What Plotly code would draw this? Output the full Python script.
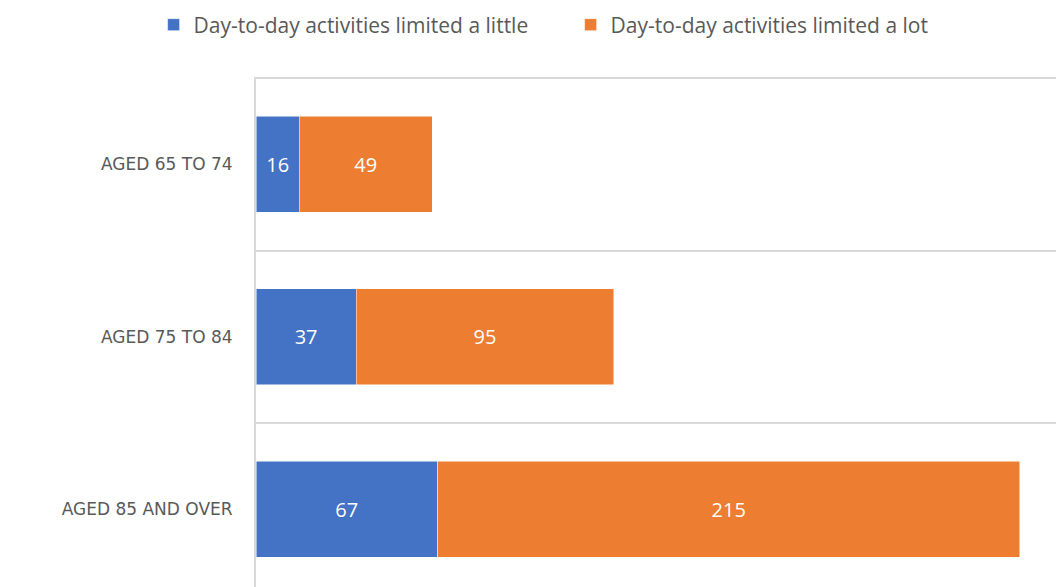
import plotly.graph_objects as go

categories = ["AGED 65 TO 74", "AGED 75 TO 84", "AGED 85 AND OVER"]
limited_little = [16, 37, 67]
limited_lot = [49, 95, 215]
series_names = ["Day-to-day activities limited a little", "Day-to-day activities limited a lot"]
colors = ["#4472C4", "#ED7D31"]

fig = go.Figure()
for name, vals, col in zip(series_names, [limited_little, limited_lot], colors):
    fig.add_trace(go.Bar(
        y=categories, x=vals, name=name, orientation="h",
        marker=dict(color=col, line=dict(color="white", width=0.5)),
        text=vals, texttemplate="%{x}", textposition="inside",
        insidetextanchor="middle", textangle=0,
        textfont=dict(color="white", size=20, family="Open Sans"),
    ))

fig.update_layout(
    barmode="stack",
    bargap=0.443,
    width=1056, height=587,
    margin=dict(l=256, r=0, t=77, b=0, pad=0),
    plot_bgcolor="white", paper_bgcolor="white",
    font=dict(family="Open Sans", color="#595959"),
    showlegend=True,
    legend=dict(
        orientation="h", x=-0.128, xanchor="left", y=1.102, yanchor="middle",
        font=dict(size=21, color="#595959", family="Open Sans"),
        entrywidth=372, entrywidthmode="pixels", itemwidth=30,
        traceorder="normal",
    ),
    xaxis=dict(range=[0, 295.3], visible=False, showgrid=False, zeroline=False),
    yaxis=dict(
        type="category", autorange=False, range=[2.451, -0.506],
        tickson="boundaries", showgrid=True, gridcolor="#D9D9D9", gridwidth=1.5,
        showline=True, linecolor="#D9D9D9", linewidth=2,
        ticks="", ticklabelstandoff=18,
        tickfont=dict(size=17, color="#595959", family="DejaVu Sans"),
    ),
)

fig.write_html("out.html")
